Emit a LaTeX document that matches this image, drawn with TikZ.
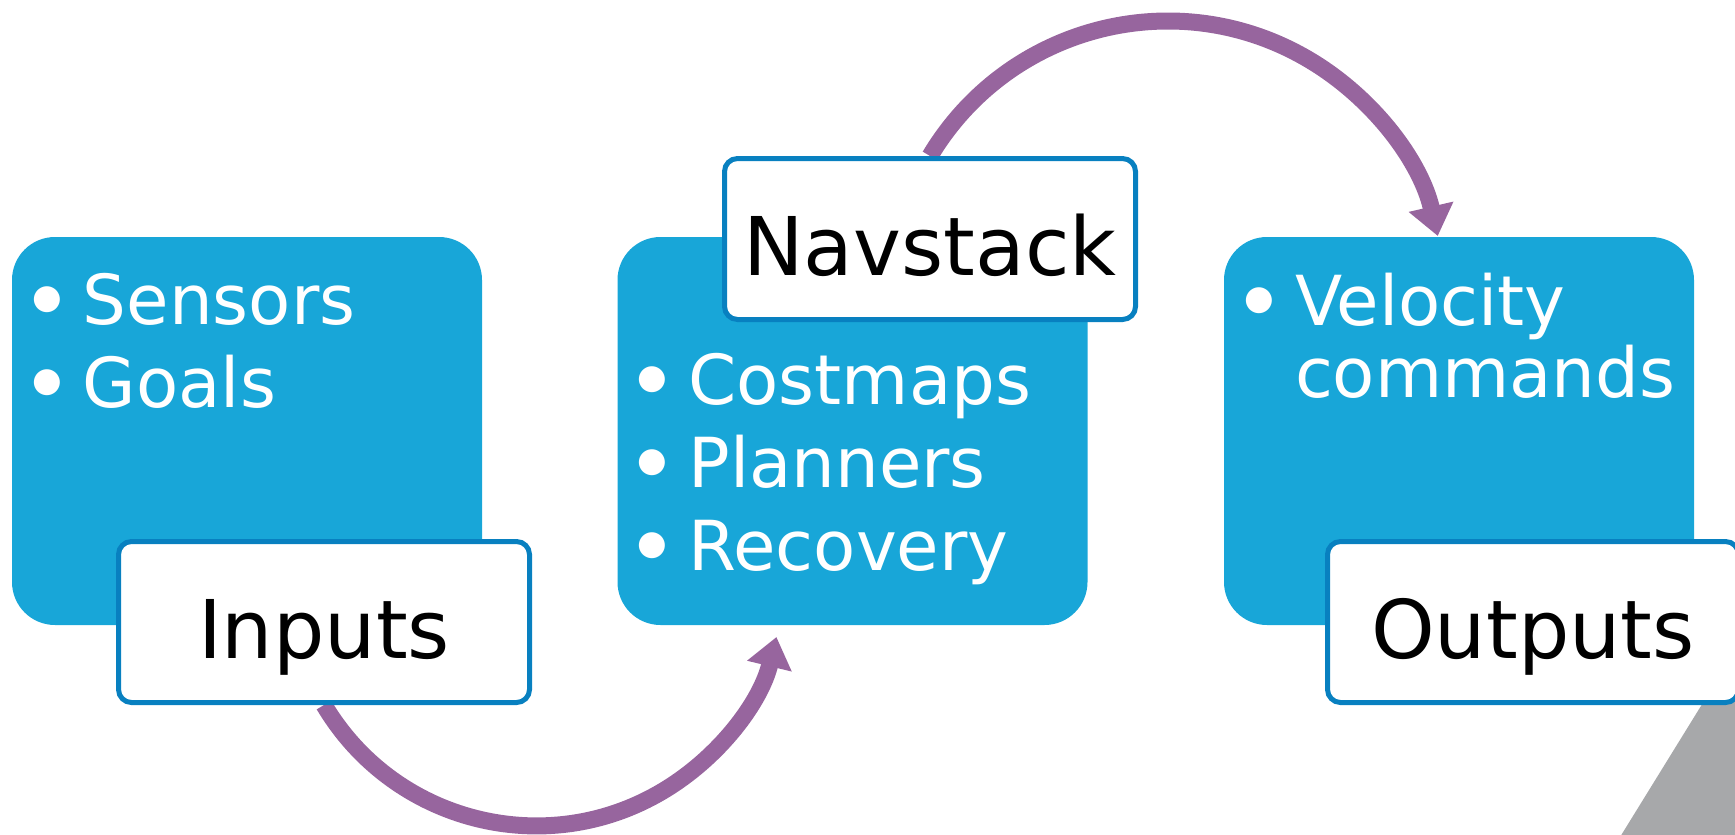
\documentclass[tikz,border=0pt]{standalone}
\usepackage{fontspec}
\setmainfont{DejaVu Sans}
\usetikzlibrary{arrows.meta}
\pgfdeclarelayer{bg}
\pgfsetlayers{bg,main}
\definecolor{boxblue}{RGB}{24,166,216}
\definecolor{lblline}{RGB}{8,128,192}
\definecolor{arcpurple}{RGB}{151,101,158}
\definecolor{cornergray}{RGB}{167,168,170}
\newcommand{\bitem}[1]{\makebox[28pt][l]{\hspace{2.5pt}\raisebox{7.9pt}{\fontsize{17}{17}\selectfont ●}}#1}
\newcommand{\bcont}[1]{\hspace*{28pt}#1}
\tikzstyle{box}=[fill=boxblue,rounded corners=21.5pt,minimum width=235pt,minimum height=194pt,inner sep=0pt]
\tikzstyle{lbl}=[draw=lblline,fill=white,line width=2.5pt,rounded corners=6.5pt,minimum width=205.5pt,minimum height=80.5pt,inner sep=0pt,font=\fontsize{40.5}{40.5}\selectfont,text height=36pt,text depth=0pt]
\tikzstyle{items}=[anchor=base west,text width=220pt,inner sep=0pt,text=white,align=left,font=\fontsize{34.5}{36}\selectfont]
\tikzstyle{flow}=[draw=arcpurple,line width=8.5pt,-{Triangle[length=15pt,width=22pt]}]

\begin{document}
\begin{tikzpicture}[x=0.5pt,y=-0.5pt]
  \useasboundingbox (0,0) rectangle (1735,835);
  \fill[cornergray] (1717,680) -- (1760,680) -- (1760,850) -- (1612,850) -- cycle;
  \node(inp)[box] at (247,431) {};
  \node(nav)[box] at (852.5,431) {};
  \node(outp)[box] at (1459,431) {};
  \node(inpt)[items] at ([xshift=7.5pt,yshift=-44pt]inp.north west)
    {\bitem{Sensors}\\[5.5pt]\bitem{Goals}};
  \node(navt)[items] at ([xshift=7.5pt,yshift=-84pt]nav.north west)
    {\bitem{Costmaps}\\[5.5pt]\bitem{Planners}\\[5.5pt]\bitem{Recovery}};
  \node(outpt)[items] at ([xshift=7.5pt,yshift=-44.5pt]outp.north west)
    {\bitem{Velocity}\\\bcont{commands}};
  \node(inpl)[lbl] at (324,622) {Inputs};
  \node(navl)[lbl] at (930,239) {Navstack};
  \node(outpl)[lbl] at (1533,622) {Outputs};
  % arcs go under the boxes
  \begin{pgfonlayer}{bg}
    \draw[flow] (inpl.south) arc[start angle=149.3,end angle=13.6,radius=247];
    \draw[flow] (navl.north) arc[start angle=210.85,end angle=347.05,radius=277];
  \end{pgfonlayer}
\end{tikzpicture}
\end{document}
